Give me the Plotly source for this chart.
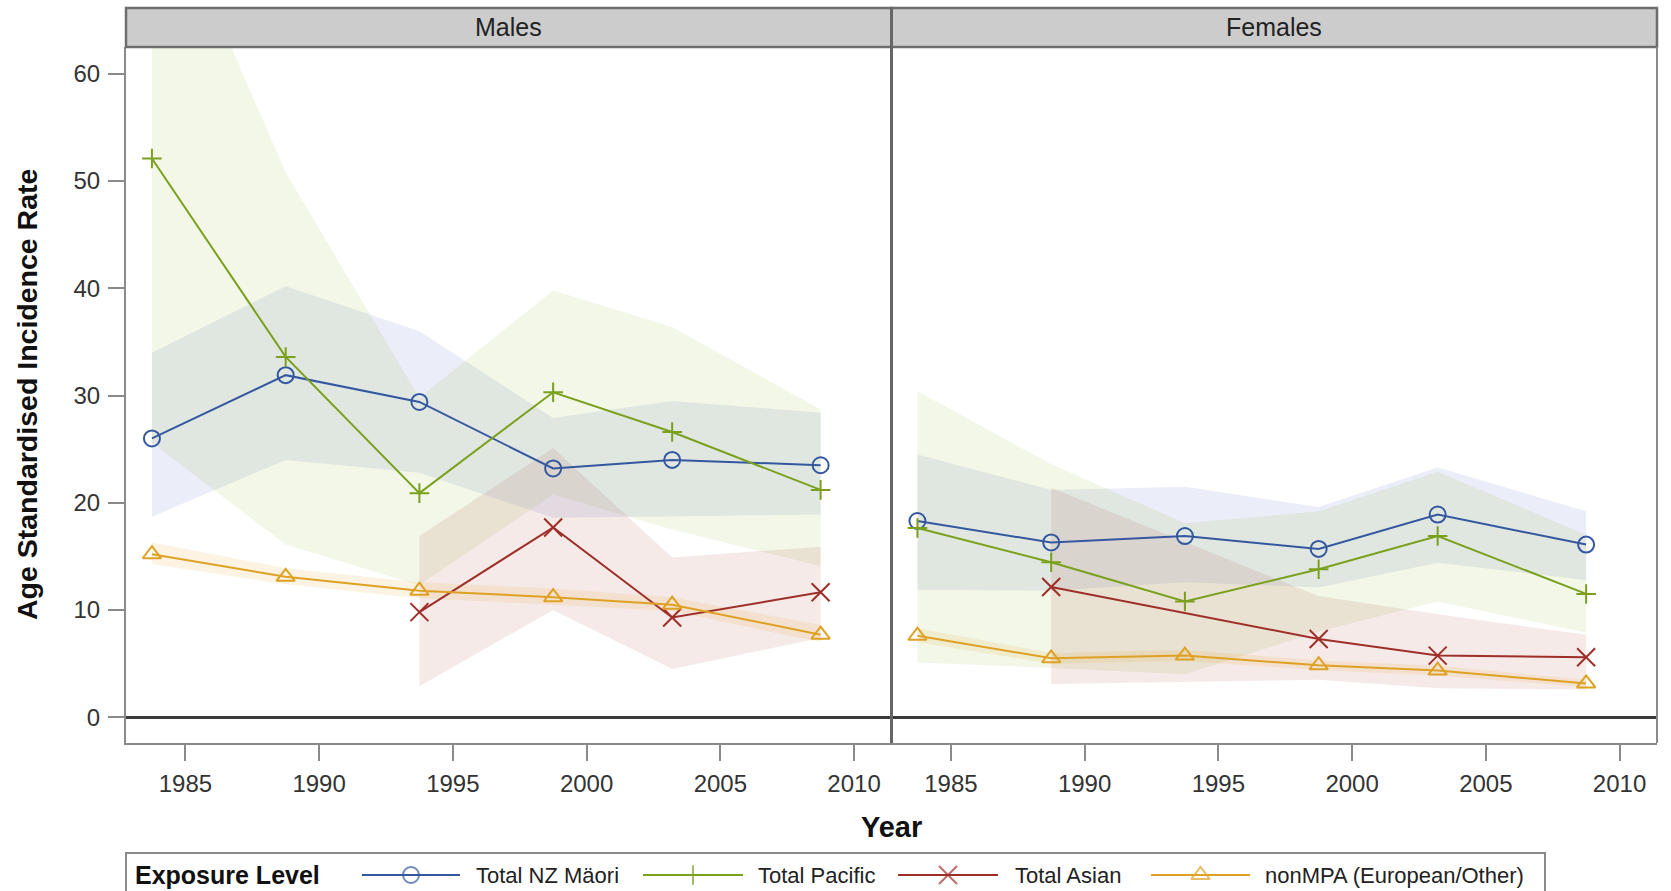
import plotly.graph_objects as go

# ---------------------------------------------------------------------------
# Data: age standardised incidence rates with 95% confidence limits
# ---------------------------------------------------------------------------
years = [1983.75, 1988.75, 1993.75, 1998.75, 2003.2, 2008.75]

# Males
maori_m = [26.0, 31.9, 29.4, 23.2, 24.0, 23.5]
maori_m_lo = [18.7, 24.0, 22.8, 18.6, 18.7, 18.9]
maori_m_hi = [34.0, 40.2, 36.0, 27.9, 29.5, 28.4]

pacific_m = [52.1, 33.6, 20.9, 30.3, 26.6, 21.2]
pacific_m_lo = [25.6, 16.1, 12.3, 20.8, 17.5, 14.1]
pacific_m_hi = [79.5, 50.8, 29.8, 39.8, 36.4, 28.7]

asian_m_years = [1993.75, 1998.75, 2003.2, 2008.75]
asian_m = [9.8, 17.7, 9.3, 11.65]
asian_m_lo = [2.9, 10.0, 4.5, 7.4]
asian_m_hi = [16.9, 25.1, 14.9, 15.9]

nonmpa_m = [15.2, 13.1, 11.8, 11.2, 10.5, 7.7]
nonmpa_m_lo = [14.3, 12.4, 11.1, 10.5, 9.9, 7.0]
nonmpa_m_hi = [16.3, 13.9, 12.6, 12.0, 11.2, 8.6]

# Females
maori_f = [18.3, 16.3, 16.9, 15.7, 18.9, 16.1]
maori_f_lo = [11.9, 11.8, 12.6, 12.1, 14.4, 12.8]
maori_f_hi = [24.5, 21.2, 21.5, 19.6, 23.3, 19.2]

pacific_f = [17.65, 14.45, 10.8, 13.8, 16.9, 11.5]
pacific_f_lo = [5.1, 4.6, 4.0, 8.0, 10.8, 7.9]
pacific_f_hi = [30.4, 23.6, 18.1, 19.2, 22.9, 17.0]

asian_f_years = [1988.75, 1998.75, 2003.2, 2008.75]
asian_f = [12.15, 7.3, 5.75, 5.6]
asian_f_lo = [3.1, 3.5, 2.7, 2.6]
asian_f_hi = [21.4, 11.3, 9.6, 7.7]

nonmpa_f = [7.6, 5.5, 5.75, 4.85, 4.35, 3.15]
nonmpa_f_lo = [7.0, 5.0, 5.25, 4.4, 3.9, 2.8]
nonmpa_f_hi = [8.3, 6.0, 6.3, 5.3, 4.8, 3.5]

panel_labels = ["Males", "Females"]
group_labels = ["Total NZ Mäori", "Total Pacific", "Total Asian", "nonMPA (European/Other)"]
x_ticks = [1985, 1990, 1995, 2000, 2005, 2010]
y_ticks = [0, 10, 20, 30, 40, 50, 60]

# ---------------------------------------------------------------------------
# Styling
# ---------------------------------------------------------------------------
FONT = "Liberation Sans, Arial, sans-serif"
colors = ["#34589f", "#7aa01e", "#9e2f28", "#dfa124"]
fills = ["rgba(70,95,190,0.11)", "rgba(140,180,50,0.11)",
         "rgba(160,60,45,0.11)", "rgba(235,160,30,0.13)"]
symbols = ["circle-open", "cross-thin-open", "x-thin-open", "triangle-up-open"]
sizes = [16, 14, 18, 16]

W, H = 1671, 891
M_L, M_R, M_T = 126, 14, 47
plot_w = W - M_L - M_R
plot_h = H - M_T
panel_bottom = 743
strip_top = 8
legend_top = 853
legend_right = 1545


def paper_y(px):
    return (H - px) / plot_h


def paper_x(px):
    return (px - M_L) / plot_w


y_dom0 = paper_y(panel_bottom)

fig = go.Figure()

panels = [
    ("x", "y", [
        (years, maori_m, maori_m_lo, maori_m_hi),
        (years, pacific_m, pacific_m_lo, pacific_m_hi),
        (asian_m_years, asian_m, asian_m_lo, asian_m_hi),
        (years, nonmpa_m, nonmpa_m_lo, nonmpa_m_hi),
    ]),
    ("x2", "y2", [
        (years, maori_f, maori_f_lo, maori_f_hi),
        (years, pacific_f, pacific_f_lo, pacific_f_hi),
        (asian_f_years, asian_f, asian_f_lo, asian_f_hi),
        (years, nonmpa_f, nonmpa_f_lo, nonmpa_f_hi),
    ]),
]

for xa, ya, groups in panels:
    # confidence bands first
    for i, (xs, ys, lo, hi) in enumerate(groups):
        fig.add_trace(go.Scatter(
            x=list(xs) + list(xs)[::-1], y=list(hi) + list(lo)[::-1],
            fill="toself", fillcolor=fills[i], line=dict(width=0),
            mode="lines", hoverinfo="skip", showlegend=False,
            xaxis=xa, yaxis=ya))
    # then the rate lines with markers
    for i, (xs, ys, lo, hi) in enumerate(groups):
        fig.add_trace(go.Scatter(
            x=xs, y=ys, mode="lines+markers", name=group_labels[i],
            line=dict(color=colors[i], width=2),
            marker=dict(symbol=symbols[i], size=sizes[i], color=colors[i],
                        line=dict(width=2, color=colors[i])),
            showlegend=False, xaxis=xa, yaxis=ya))

# ---------------------------------------------------------------------------
# Legend drawn on its own pixel-scaled axis pair
# ---------------------------------------------------------------------------
legend_lines = [(362, 460), (643, 743), (898, 998), (1151, 1250)]
legend_text_x = [474, 756, 1013, 1263]
legend_y = 875
for i, (x0, x1) in enumerate(legend_lines):
    fig.add_trace(go.Scatter(
        x=[x0, (x0 + x1) / 2, x1], y=[legend_y] * 3, mode="lines+markers",
        line=dict(color=colors[i], width=2),
        marker=dict(symbol=symbols[i], size=[0, sizes[i], 0], color=colors[i],
                    line=dict(width=2, color=colors[i])),
        hoverinfo="skip", showlegend=False, xaxis="x3", yaxis="y3"))

annotations = []
annotations.append(dict(x=133, y=legend_y, xref="x3", yref="y3", text="<b>Exposure Level</b>",
                        showarrow=False, xanchor="left", yanchor="middle",
                        font=dict(family=FONT, size=25, color="#111")))
for i, tx in enumerate(legend_text_x):
    annotations.append(dict(x=tx, y=legend_y, xref="x3", yref="y3", text=group_labels[i],
                            showarrow=False, xanchor="left", yanchor="middle",
                            font=dict(family=FONT, size=22, color="#222")))

# strip labels
for k, lab in enumerate(panel_labels):
    annotations.append(dict(x=0.25 + 0.5 * k, y=paper_y(27), xref="paper", yref="paper",
                            text=lab, showarrow=False, xanchor="center", yanchor="middle",
                            font=dict(family=FONT, size=25, color="#222")))

# axis titles
annotations.append(dict(x=0.5, y=paper_y(827), xref="paper", yref="paper",
                        text="<b>Year</b>", showarrow=False, xanchor="center", yanchor="middle",
                        font=dict(family=FONT, size=29, color="#111")))
annotations.append(dict(x=paper_x(27), y=(y_dom0 + 1) / 2, xref="paper", yref="paper",
                        text="<b>Age Standardised Incidence Rate</b>", textangle=-90,
                        showarrow=False, xanchor="center", yanchor="middle",
                        font=dict(family=FONT, size=28.5, color="#111")))

shapes = []
# strips
for k in range(2):
    shapes.append(dict(type="rect", xref="paper", yref="paper",
                       x0=0.5 * k, x1=0.5 * (k + 1), y0=1, y1=paper_y(strip_top),
                       fillcolor="#cccccc", line=dict(color="#6e6e6e", width=2.5)))
# right border of the right panel
shapes.append(dict(type="line", xref="paper", yref="paper", x0=1, x1=1,
                   y0=y_dom0, y1=1, line=dict(color="#8a8a8a", width=2)))
# panel separator
shapes.append(dict(type="line", xref="paper", yref="paper", x0=0.5, x1=0.5,
                   y0=y_dom0, y1=paper_y(strip_top), line=dict(color="#666666", width=3)))
# legend frame
shapes.append(dict(type="rect", xref="paper", yref="paper",
                   x0=0, x1=paper_x(legend_right), y0=paper_y(H + 10), y1=paper_y(legend_top),
                   line=dict(color="#8a8a8a", width=2), fillcolor="rgba(0,0,0,0)"))

x_common = dict(range=[1982.78, 2011.4], tickvals=x_ticks, ticks="outside", ticklen=16,
                tickwidth=1.5, tickcolor="#8a8a8a", showline=True, linecolor="#8a8a8a",
                linewidth=2, showgrid=False, zeroline=False, ticklabelstandoff=2,
                tickfont=dict(family=FONT, size=24, color="#333"))
y_common = dict(range=[-2.4, 62.5], tickvals=y_ticks, showgrid=False, zeroline=True,
                zerolinecolor="#3a3a3a", zerolinewidth=2.5, domain=[y_dom0, 1])

fig.update_layout(
    width=W, height=H,
    margin=dict(l=M_L, r=M_R, t=M_T, b=0),
    paper_bgcolor="white", plot_bgcolor="white",
    showlegend=False,
    xaxis=dict(domain=[0, 0.5], anchor="y", **x_common),
    xaxis2=dict(domain=[0.5, 1], anchor="y2", **x_common),
    yaxis=dict(anchor="x", ticks="outside", ticklen=16, tickwidth=1.5, tickcolor="#8a8a8a",
               showline=True, linecolor="#8a8a8a", linewidth=2, ticklabelstandoff=3,
               tickfont=dict(family=FONT, size=24, color="#333"), **y_common),
    yaxis2=dict(anchor="x2", matches="y", showticklabels=False, ticks="", showline=False,
                **y_common),
    xaxis3=dict(domain=[0, paper_x(legend_right)], range=[M_L, legend_right], visible=False,
                anchor="y3", fixedrange=True),
    yaxis3=dict(domain=[0, paper_y(legend_top)], range=[H, legend_top], visible=False,
                anchor="x3", fixedrange=True),
    annotations=annotations,
    shapes=shapes,
    font=dict(family=FONT),
)

fig.write_html("out.html")
